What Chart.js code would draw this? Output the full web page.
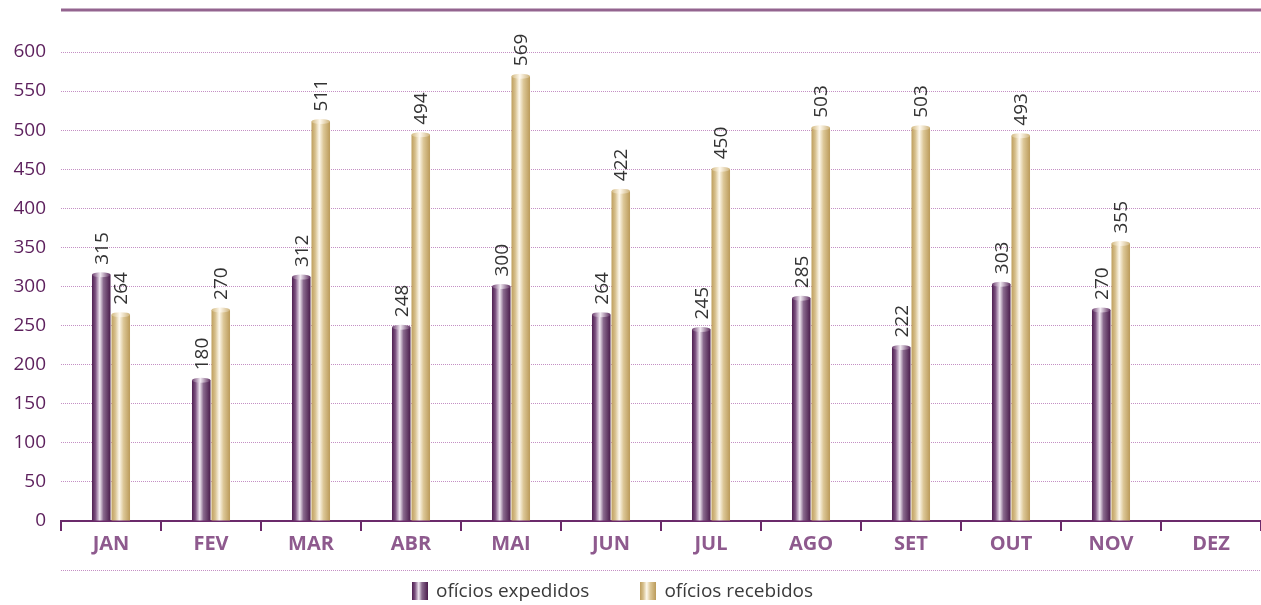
<!DOCTYPE html>
<html>
<head>
<meta charset="utf-8">
<script src="https://cdn.jsdelivr.net/npm/chart.js@4"></script>
<style>
html,body{margin:0;padding:0;background:#fff;}
#wrap{position:relative;width:1261px;height:605px;}
#legend{position:absolute;left:412px;top:577px;white-space:nowrap;font-family:"Open Sans",sans-serif;font-size:19px;color:#3a3a3a;}
#legend span.item{display:inline-block;margin-right:51px;}
#legend i{display:inline-block;width:16px;height:18px;vertical-align:-3px;margin-right:8px;}
</style>
</head>
<body>
<div id="wrap">
<canvas id="c" width="1261" height="605"></canvas>
<div id="legend"></div>
</div>
<script>
const categories = ["JAN","FEV","MAR","ABR","MAI","JUN","JUL","AGO","SET","OUT","NOV","DEZ"];
const expedidos = [315,180,312,248,300,264,245,285,222,303,270,null];
const recebidos = [264,270,511,494,569,422,450,503,503,493,355,null];
const seriesNames = ["ofícios expedidos","ofícios recebidos"];
const yTicks = [0,50,100,150,200,250,300,350,400,450,500,550,600];

const purpleStops = [[0,'#4e1f50'],[0.18,'#7a4f7e'],[0.42,'#f0e8f1'],[0.62,'#8a6a8e'],[1,'#4a1c4c']];
const goldStops = [[0,'#bf9f5e'],[0.2,'#d6bf8c'],[0.42,'#fdf8ec'],[0.65,'#dcc797'],[1,'#bb9b5a']];
const palettes = [purpleStops, goldStops];

function cssGrad(stops){return 'linear-gradient(to right,'+stops.map(s=>s[1]+' '+(s[0]*100)+'%').join(',')+')';}
document.getElementById('legend').innerHTML = seriesNames.map((n,i)=>'<span class="item"><i style="background:'+cssGrad(palettes[i])+'"></i>'+n+'</span>').join('');

const decor = {
  id:'decor',
  beforeDatasetsDraw(chart){
    const ctx = chart.ctx;
    chart.data.datasets.forEach((ds,di)=>{
      const meta = chart.getDatasetMeta(di);
      meta.data.forEach(el=>{
        if(el.skip || el.width===undefined || isNaN(el.y)) return;
        const g = ctx.createLinearGradient(el.x-el.width/2,0,el.x+el.width/2,0);
        palettes[di].forEach(s=>g.addColorStop(s[0],s[1]));
        el.options = Object.assign({}, el.options, {backgroundColor:g});
      });
    });
  },
  afterDatasetsDraw(chart){
    const ctx = chart.ctx;
    const area = chart.chartArea;
    ctx.save();
    ctx.strokeStyle = '#93648f';
    ctx.lineWidth = 3;
    ctx.beginPath(); ctx.moveTo(area.left,10); ctx.lineTo(area.right,10); ctx.stroke();
    ctx.strokeStyle = '#c48fc4';
    ctx.lineWidth = 1;
    ctx.setLineDash([1,1]);
    ctx.beginPath(); ctx.moveTo(area.left,570.5); ctx.lineTo(area.right,570.5); ctx.stroke();
    ctx.setLineDash([]);
    chart.data.datasets.forEach((ds,di)=>{
      const meta = chart.getDatasetMeta(di);
      meta.data.forEach((el,i)=>{
        const v = ds.data[i];
        if(v===null || v===undefined) return;
        const g = ctx.createLinearGradient(el.x-el.width/2,0,el.x+el.width/2,0);
        const caps = di===0 ? [[0,'#6a3a6c'],[0.45,'#f3ecf4'],[1,'#5a2a5c']] : [[0,'#d2b87f'],[0.45,'#fffaf0'],[1,'#cdb27a']];
        caps.forEach(s=>g.addColorStop(s[0],s[1]));
        ctx.fillStyle = g;
        ctx.beginPath();
        ctx.ellipse(el.x, el.y, el.width/2, 2.5, 0, 0, Math.PI*2);
        ctx.fill();
        ctx.save();
        ctx.translate(el.x+1, el.y-10);
        ctx.rotate(-Math.PI/2);
        ctx.fillStyle = '#333333';
        ctx.font = '19px "Open Sans", sans-serif';
        ctx.textAlign = 'left';
        ctx.textBaseline = 'middle';
        ctx.fillText(String(v),0,0);
        ctx.restore();
      });
    });
    ctx.restore();
  }
};

new Chart(document.getElementById('c'),{
  type:'bar',
  data:{
    labels:categories,
    datasets:[
      {label:seriesNames[0],data:expedidos,backgroundColor:'#6b3a6d',categoryPercentage:0.39,barPercentage:0.95},
      {label:seriesNames[1],data:recebidos,backgroundColor:'#c9ad72',categoryPercentage:0.39,barPercentage:0.95}
    ]
  },
  plugins:[decor],
  options:{
    responsive:false,
    animation:false,
    layout:{padding:{top:52,left:0,right:0,bottom:0}},
    plugins:{legend:{display:false},tooltip:{enabled:false}},
    scales:{
      x:{
        afterFit(s){s.height=84;},
        grid:{display:true,offset:true,drawOnChartArea:false,drawTicks:true,tickLength:10,color:'#6b2a6b',lineWidth:2},
        border:{display:true,color:'#6b2a6b',width:2},
        ticks:{color:'#8e5a8e',font:{family:'"Open Sans", sans-serif',size:20,weight:'bold'},padding:1,maxRotation:0}
      },
      y:{
        min:0,max:600,
        afterFit(s){s.width=61;},
        afterBuildTicks(s){s.ticks=yTicks.map(v=>({value:v}));},
        grid:{display:true,drawTicks:false,color:'#c48fc4',lineWidth:1},
        border:{display:false,dash:[1,1]},
        ticks:{color:'#5c1f5c',font:{family:'"Open Sans", sans-serif',size:19},padding:15}
      }
    }
  }
});
</script>
</body>
</html>
